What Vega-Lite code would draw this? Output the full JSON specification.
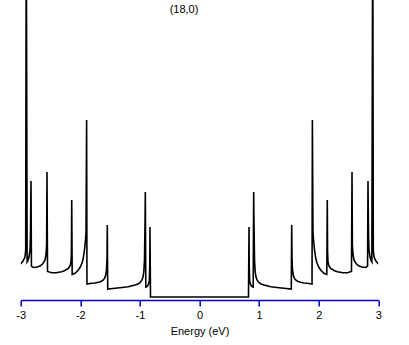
{
  "$schema": "https://vega.github.io/schema/vega-lite/v6.json",
  "width": 357.6,
  "height": 300,
  "autosize": {"type": "none"},
  "padding": {"left": 20.7, "top": 0, "right": 30.7, "bottom": 45},
  "background": "white",
  "config": {"view": {"stroke": null}},
  "datasets": {
    "dos": [
      {"e": -3.000, "d": 36}, {"e": -2.961, "d": 39}, {"e": -2.928, "d": 43}, {"e": -2.916, "d": 50},
      {"e": -2.907, "d": 400}, {"e": -2.892, "d": 38}, {"e": -2.881, "d": 39}, {"e": -2.861, "d": 43},
      {"e": -2.844, "d": 50}, {"e": -2.836, "d": 65}, {"e": -2.827, "d": 119}, {"e": -2.820, "d": 34},
      {"e": -2.789, "d": 32.5}, {"e": -2.727, "d": 33}, {"e": -2.676, "d": 34}, {"e": -2.626, "d": 36.5},
      {"e": -2.592, "d": 40}, {"e": -2.576, "d": 45}, {"e": -2.565, "d": 55}, {"e": -2.559, "d": 128},
      {"e": -2.550, "d": 28.5}, {"e": -2.480, "d": 27.3}, {"e": -2.408, "d": 27.2}, {"e": -2.312, "d": 28.2},
      {"e": -2.257, "d": 29.5}, {"e": -2.201, "d": 31.7}, {"e": -2.172, "d": 34}, {"e": -2.156, "d": 38},
      {"e": -2.149, "d": 48}, {"e": -2.144, "d": 100}, {"e": -2.136, "d": 25.7}, {"e": -2.089, "d": 26.7},
      {"e": -2.039, "d": 29.5}, {"e": -2.005, "d": 32.5}, {"e": -1.971, "d": 37}, {"e": -1.950, "d": 42},
      {"e": -1.930, "d": 50}, {"e": -1.913, "d": 60}, {"e": -1.904, "d": 68}, {"e": -1.894, "d": 180},
      {"e": -1.888, "d": 16}, {"e": -1.809, "d": 16.7}, {"e": -1.753, "d": 17}, {"e": -1.698, "d": 17.7},
      {"e": -1.653, "d": 18.5}, {"e": -1.614, "d": 20}, {"e": -1.589, "d": 22}, {"e": -1.574, "d": 25},
      {"e": -1.560, "d": 30}, {"e": -1.552, "d": 42}, {"e": -1.547, "d": 75}, {"e": -1.540, "d": 11},
      {"e": -1.418, "d": 11.7}, {"e": -1.300, "d": 12.5}, {"e": -1.195, "d": 13.3}, {"e": -1.133, "d": 14.2},
      {"e": -1.082, "d": 15}, {"e": -1.032, "d": 16}, {"e": -0.998, "d": 17.3}, {"e": -0.965, "d": 20},
      {"e": -0.948, "d": 23}, {"e": -0.935, "d": 28}, {"e": -0.923, "d": 40}, {"e": -0.913, "d": 82},
      {"e": -0.909, "d": 108}, {"e": -0.901, "d": 13}, {"e": -0.889, "d": 13.3}, {"e": -0.872, "d": 14},
      {"e": -0.856, "d": 15.5}, {"e": -0.842, "d": 19}, {"e": -0.834, "d": 35}, {"e": -0.831, "d": 73},
      {"e": -0.822, "d": 3},
      {"e": 0.822, "d": 3}, {"e": 0.831, "d": 73}, {"e": 0.834, "d": 35}, {"e": 0.842, "d": 19},
      {"e": 0.856, "d": 15.5}, {"e": 0.872, "d": 14}, {"e": 0.889, "d": 13.3}, {"e": 0.901, "d": 13},
      {"e": 0.909, "d": 108}, {"e": 0.913, "d": 82}, {"e": 0.923, "d": 40}, {"e": 0.935, "d": 28},
      {"e": 0.948, "d": 23}, {"e": 0.965, "d": 20}, {"e": 0.998, "d": 17.3}, {"e": 1.032, "d": 16},
      {"e": 1.082, "d": 15}, {"e": 1.133, "d": 14.2}, {"e": 1.195, "d": 13.3}, {"e": 1.300, "d": 12.5},
      {"e": 1.418, "d": 11.7}, {"e": 1.540, "d": 11}, {"e": 1.547, "d": 75}, {"e": 1.552, "d": 42},
      {"e": 1.560, "d": 30}, {"e": 1.574, "d": 25}, {"e": 1.589, "d": 22}, {"e": 1.614, "d": 20},
      {"e": 1.653, "d": 18.5}, {"e": 1.698, "d": 17.7}, {"e": 1.753, "d": 17}, {"e": 1.809, "d": 16.7},
      {"e": 1.888, "d": 16}, {"e": 1.894, "d": 180}, {"e": 1.904, "d": 68}, {"e": 1.913, "d": 60},
      {"e": 1.930, "d": 50}, {"e": 1.950, "d": 42}, {"e": 1.971, "d": 37}, {"e": 2.005, "d": 32.5},
      {"e": 2.039, "d": 29.5}, {"e": 2.089, "d": 26.7}, {"e": 2.136, "d": 25.7}, {"e": 2.144, "d": 100},
      {"e": 2.149, "d": 48}, {"e": 2.156, "d": 38}, {"e": 2.172, "d": 34}, {"e": 2.201, "d": 31.7},
      {"e": 2.257, "d": 29.5}, {"e": 2.312, "d": 28.2}, {"e": 2.408, "d": 27.2}, {"e": 2.480, "d": 27.3},
      {"e": 2.550, "d": 28.5}, {"e": 2.559, "d": 128}, {"e": 2.565, "d": 55}, {"e": 2.576, "d": 45},
      {"e": 2.592, "d": 40}, {"e": 2.626, "d": 36.5}, {"e": 2.676, "d": 34}, {"e": 2.727, "d": 33},
      {"e": 2.789, "d": 32.5}, {"e": 2.820, "d": 34}, {"e": 2.827, "d": 119}, {"e": 2.836, "d": 65},
      {"e": 2.844, "d": 50}, {"e": 2.861, "d": 43}, {"e": 2.881, "d": 39}, {"e": 2.892, "d": 38},
      {"e": 2.907, "d": 400}, {"e": 2.916, "d": 50}, {"e": 2.928, "d": 43}, {"e": 2.961, "d": 39},
      {"e": 3.000, "d": 36}
    ],
    "label": [{"e": -0.26, "d": 290, "t": "(18,0)"}]
  },
  "layer": [
    {
      "data": {"name": "dos"},
      "mark": {"type": "line", "color": "black", "strokeWidth": 1.6, "clip": true, "interpolate": "linear"},
      "encoding": {
        "x": {
          "field": "e", "type": "quantitative",
          "scale": {"domain": [-3, 3], "nice": false, "zero": false},
          "axis": {
            "title": "Energy (eV)",
            "values": [-3, -2.5, -2, -1.5, -1, -0.5, 0, 0.5, 1, 1.5, 2, 2.5, 3],
            "labelExpr": "datum.value % 1 === 0 ? '' + datum.value : ''",
            "grid": false,
            "domainColor": "#0000c8", "domainWidth": 1.5,
            "tickColor": "#0000c8", "tickWidth": 1.5, "tickSize": 6,
            "labelFont": "Liberation Sans", "labelFontSize": 11, "labelColor": "black", "labelPadding": 3,
            "titleFont": "Liberation Sans", "titleFontSize": 11, "titleFontWeight": "normal", "titleColor": "black", "titlePadding": 5,
            "labelOverlap": false, "labelFlush": false
          }
        },
        "y": {
          "field": "d", "type": "quantitative",
          "scale": {"domain": [0, 300], "nice": false, "zero": false},
          "axis": null
        }
      }
    },
    {
      "data": {"name": "label"},
      "mark": {"type": "text", "font": "Liberation Sans", "fontSize": 11, "color": "black", "align": "center", "baseline": "middle"},
      "encoding": {
        "x": {"field": "e", "type": "quantitative"},
        "y": {"field": "d", "type": "quantitative"},
        "text": {"field": "t"}
      }
    }
  ]
}
